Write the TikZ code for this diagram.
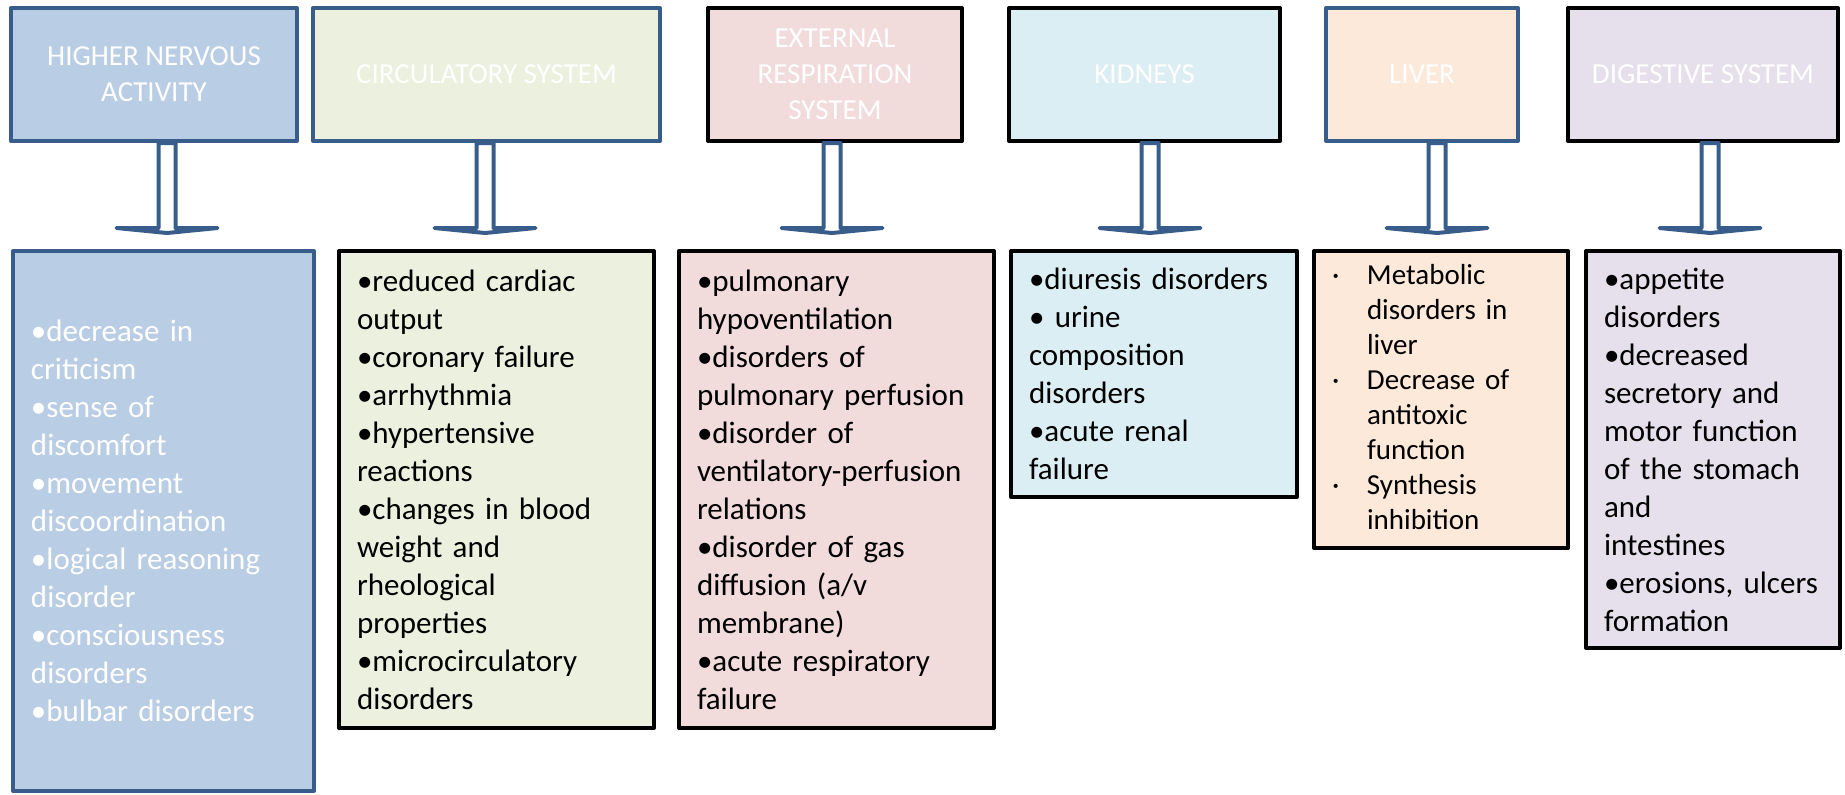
\documentclass[tikz,border=0pt]{standalone}
\usepackage{fontspec}
\setmainfont{Carlito}
\usetikzlibrary{calc}

\definecolor{nblue}{HTML}{385D8A}
\definecolor{nervousfill}{HTML}{B9CDE5}
\definecolor{circfill}{HTML}{EBF1DE}
\definecolor{respfill}{HTML}{F2DCDB}
\definecolor{kidneyfill}{HTML}{DBEEF4}
\definecolor{liverfill}{HTML}{FDE9D9}
\definecolor{digestfill}{HTML}{E5E0EC}

\begin{document}
\begin{tikzpicture}[
            x=0.5pt, y=-0.5pt,
            headbox/.style = {align=center, text=white, line width=2pt, line join=round,
                    font=\fontsize{14.5}{18}\selectfont, minimum height=66.5pt, inner sep=2pt},
            listbox/.style = {align=left, anchor=north west, line width=2pt, line join=round,
                    font=\fontsize{15.5}{19}\selectfont, inner xsep=9pt, inner ysep=2pt},
            sysarrow/.style = {draw=nblue, fill=white, line width=2pt, line join=round,
                    to path={($(\tikztostart)+(-8.5,0)$) -- ($(\tikztotarget)+(-8.5,-21)$)
                        -- ($(\tikztotarget)+(-50.5,-21)$) -- ($(\tikztotarget)+(0,-16)$)
                        -- ($(\tikztotarget)+(50.5,-21)$) -- ($(\tikztotarget)+(8.5,-21)$)
                        -- ($(\tikztostart)+(8.5,0)$) -- cycle}}
        ]
        \useasboundingbox (0,0) rectangle (1845,794);

        \node (nervous) [headbox, draw=nblue, fill=nervousfill, minimum width=143pt]   at (154,74.5)    {HIGHER NERVOUS\\ACTIVITY};
        \node (circ)    [headbox, draw=nblue, fill=circfill, minimum width=173.5pt]    at (486.5,74.5)  {CIRCULATORY SYSTEM};
        \node (resp)    [headbox, draw=black, fill=respfill, minimum width=127pt]      at (835,74.5)    {EXTERNAL\\RESPIRATION\\SYSTEM};
        \node (kidney)  [headbox, draw=black, fill=kidneyfill, minimum width=135.5pt]  at (1144.5,74.5) {KIDNEYS};
        \node (liver)   [headbox, draw=nblue, fill=liverfill, minimum width=96pt]      at (1422,74.5)   {LIVER};
        \node (digest)  [headbox, draw=black, fill=digestfill, minimum width=135pt]    at (1703,74.5)   {DIGESTIVE SYSTEM};

        \node (nervouslist) [listbox, draw=nblue, fill=nervousfill, text=white, text width=132.5pt, minimum height=270pt] at (11,249)
            {•decrease in\\criticism\\•sense of\\discomfort\\•movement\\discoordination\\•logical reasoning\\disorder\\•consciousness\\disorders\\•bulbar disorders};
        \node (circlist) [listbox, draw=black, fill=circfill, text width=139.5pt, minimum height=238.5pt] at (337,249)
            {•reduced cardiac\\output\\•coronary failure\\•arrhythmia\\•hypertensive\\reactions\\•changes in blood\\weight and\\rheological\\properties\\•microcirculatory\\disorders};
        \node (resplist) [listbox, draw=black, fill=respfill, text width=139.5pt, minimum height=238.5pt] at (677,249)
            {•pulmonary\\hypoventilation\\•disorders of\\pulmonary perfusion\\•disorder of\\ventilatory-perfusion\\relations\\•disorder of gas\\diffusion (a/v\\membrane)\\•acute respiratory\\failure};
        \node (kidneylist) [listbox, draw=black, fill=kidneyfill, text width=125pt, minimum height=123pt] at (1009,249)
            {•diuresis disorders\\• urine\\composition\\disorders\\•acute renal\\failure};
        \node (liverlist) [listbox, draw=black, fill=liverfill, font=\fontsize{14.5}{17.5}\selectfont, text width=109pt, minimum height=148.5pt] at (1312,249)
            {\begin{tabular}{@{}p{17.5pt}@{}l@{}}
                · & Metabolic\\ & disorders in\\ & liver\\
                · & Decrease of\\ & antitoxic\\ & function\\
                · & Synthesis\\ & inhibition
             \end{tabular}};
        \node (digestlist) [listbox, draw=black, fill=digestfill, text width=109pt, minimum height=198.5pt] at (1584,249)
            {•appetite\\disorders\\•decreased\\secretory and\\motor function\\of the stomach\\and\\intestines\\•erosions, ulcers\\formation};

        \draw[sysarrow] (167,0 |- nervous.south)  to (167,0 |- nervouslist.north);
        \draw[sysarrow] (485,0 |- circ.south)     to (485,0 |- circlist.north);
        \draw[sysarrow] (832,0 |- resp.south)     to (832,0 |- resplist.north);
        \draw[sysarrow] (1150,0 |- kidney.south)  to (1150,0 |- kidneylist.north);
        \draw[sysarrow] (1437,0 |- liver.south)   to (1437,0 |- liverlist.north);
        \draw[sysarrow] (1710,0 |- digest.south)  to (1710,0 |- digestlist.north);
    \end{tikzpicture}
\end{document}
